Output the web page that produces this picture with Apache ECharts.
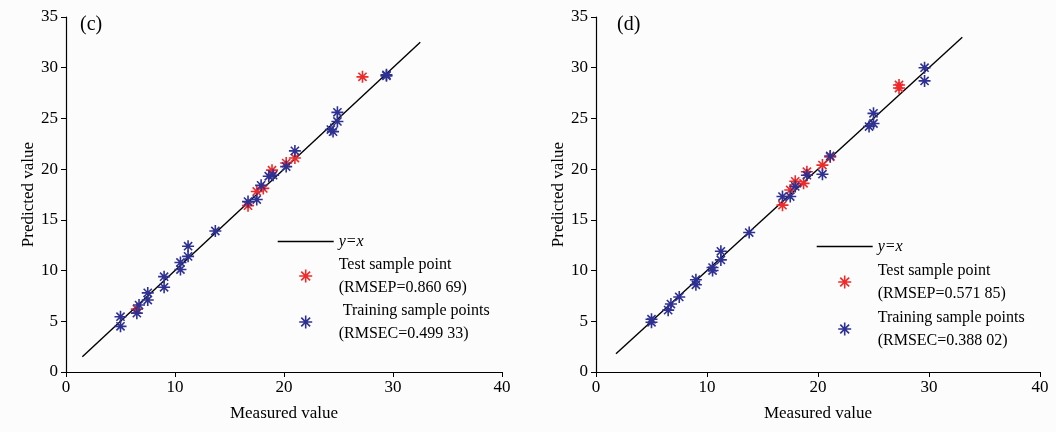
<!DOCTYPE html>
<html>
<head>
<meta charset="utf-8">
<script src="https://cdn.jsdelivr.net/npm/echarts@6/dist/echarts.min.js"></script>
<style>
html,body{margin:0;padding:0;background:#fcfcfc;}
#chart{width:1056px;height:432px;}
</style>
</head>
<body>
<div id="chart"></div>
<script>
// ---- data ----
var panelTitles = ['(c)', '(d)'];
var xAxisName = 'Measured value';
var yAxisName = 'Predicted value';
var xRange = [0, 40, 10];
var yRange = [0, 35, 5];
var lineName = 'y=x';

var lineC = [1.5, 32.5];
var testNameC = 'Test sample point\n(RMSEP=0.860 69)';
var trainNameC = ' Training sample points\n(RMSEC=0.499 33)';
var measuredC_test  = [6.5, 16.7, 17.5, 18.1, 18.9, 20.2, 21.0, 27.2];
var predictedC_test = [6.2, 16.4, 17.8, 18.1, 19.9, 20.6, 21.1, 29.1];
var measuredC_train  = [5.0, 5.0, 6.5, 6.7, 7.5, 7.5, 9.0, 9.0, 10.5, 10.5, 11.2, 11.2, 13.7, 16.7, 17.5, 17.9, 18.6, 19.0, 20.2, 21.0, 24.3, 24.5, 24.9, 24.9, 29.4, 29.4];
var predictedC_train = [5.45, 4.5, 5.8, 6.6, 7.8, 7.1, 9.4, 8.35, 10.8, 10.1, 12.4, 11.4, 13.9, 16.8, 17.0, 18.4, 19.3, 19.4, 20.25, 21.8, 23.9, 23.7, 24.7, 25.6, 29.3, 29.2];

var lineD = [1.8, 33.0];
var testNameD = 'Test sample point\n(RMSEP=0.571 85)';
var trainNameD = 'Training sample points\n(RMSEC=0.388 02)';
var measuredD_test  = [16.8, 17.5, 17.95, 18.7, 19.0, 20.4, 21.1, 27.3, 27.3];
var predictedD_test = [16.45, 17.95, 18.8, 18.6, 19.75, 20.4, 21.2, 28.3, 28.0];
var measuredD_train  = [5.0, 5.0, 6.5, 6.75, 7.5, 9.0, 9.0, 10.5, 10.5, 11.25, 11.25, 13.8, 16.8, 17.5, 17.95, 19.0, 20.4, 21.1, 24.6, 25.0, 25.0, 29.6, 29.6];
var predictedD_train = [5.2, 4.9, 6.1, 6.7, 7.4, 9.1, 8.6, 10.3, 10.0, 11.9, 11.05, 13.75, 17.3, 17.3, 18.3, 19.4, 19.5, 21.3, 24.2, 24.5, 25.5, 30.0, 28.7];

// ---- styling / build ----
var FONT = '"Liberation Serif", "Times New Roman", serif';
var RED = '#ee2a2a';
var BLUE = '#2e3192';
var STAR = 'path://M5,0L5,10M0,5L10,5M1.6,1.6L8.4,8.4M8.4,1.6L1.6,8.4';

function pairs(xs, ys) { return xs.map(function (x, i) { return [x, ys[i]]; }); }

function xAxisOpt(gi) {
  return {
    gridIndex: gi, type: 'value', min: xRange[0], max: xRange[1], interval: xRange[2],
    name: xAxisName, nameLocation: 'middle', nameGap: 33,
    nameTextStyle: { fontFamily: FONT, fontSize: 17, color: '#000' },
    axisLine: { show: true, onZero: false, lineStyle: { color: '#000', width: 1.2 } },
    axisTick: { show: true, inside: false, length: 5, lineStyle: { color: '#000' } },
    axisLabel: { fontFamily: FONT, fontSize: 17, color: '#000', margin: 7 },
    splitLine: { show: false }
  };
}
function yAxisOpt(gi) {
  return {
    gridIndex: gi, type: 'value', min: yRange[0], max: yRange[1], interval: yRange[2],
    name: yAxisName, nameLocation: 'middle', nameGap: 27,
    nameTextStyle: { fontFamily: FONT, fontSize: 17, color: '#000' },
    axisLine: { show: true, onZero: false, lineStyle: { color: '#000', width: 1.2 } },
    axisTick: { show: true, inside: false, length: 5, lineStyle: { color: '#000' } },
    axisLabel: { fontFamily: FONT, fontSize: 17, color: '#000', margin: 8 },
    splitLine: { show: false }
  };
}
function lineSeries(gi, ends) {
  return {
    name: lineName, type: 'line', xAxisIndex: gi, yAxisIndex: gi,
    data: [[ends[0], ends[0]], [ends[1], ends[1]]],
    symbol: 'none', lineStyle: { color: '#000', width: 1.4 }, itemStyle: { color: '#000' },
    z: 3, silent: true
  };
}
function starSeries(gi, name, xs, ys, color, z) {
  return {
    name: name, type: 'scatter', xAxisIndex: gi, yAxisIndex: gi,
    data: pairs(xs, ys), symbol: STAR, symbolSize: 12,
    itemStyle: { color: 'rgba(0,0,0,0)', borderColor: color, borderWidth: 1.6, opacity: 1 },
    z: z
  };
}
function legendOpt(left, top, testName, trainName, lh, gap) {
  return {
    orient: 'vertical', left: left, top: top, padding: 0,
    itemWidth: 56, itemHeight: 13, itemGap: gap,
    textStyle: { fontFamily: FONT, fontSize: 16, color: '#000', lineHeight: lh },
    data: [
      { name: lineName,
        itemStyle: { color: 'rgba(0,0,0,0)', borderWidth: 0, opacity: 0 },
        lineStyle: { color: '#000', width: 1.4, opacity: 1 },
        textStyle: { fontStyle: 'italic', fontFamily: FONT, fontSize: 16, lineHeight: lh } },
      { name: testName, itemStyle: { color: 'rgba(0,0,0,0)', borderColor: RED, borderWidth: 1.6 } },
      { name: trainName, itemStyle: { color: 'rgba(0,0,0,0)', borderColor: BLUE, borderWidth: 1.6 } }
    ],
    selectedMode: false
  };
}

var option = {
  animation: false,
  backgroundColor: '#fcfcfc',
  title: [
    { text: panelTitles[0], left: 80, top: 15, padding: 0, textStyle: { fontFamily: FONT, fontSize: 20, fontWeight: 'normal', color: '#000' } },
    { text: panelTitles[1], left: 617, top: 15, padding: 0, textStyle: { fontFamily: FONT, fontSize: 20, fontWeight: 'normal', color: '#000' } }
  ],
  grid: [
    { left: 66, top: 17, width: 436, bottom: 60, containLabel: false },
    { left: 596, top: 17, width: 444, bottom: 60, containLabel: false }
  ],
  xAxis: [xAxisOpt(0), xAxisOpt(1)],
  yAxis: [yAxisOpt(0), yAxisOpt(1)],
  legend: [
    legendOpt(277, 230, testNameC, trainNameC, 23, 0),
    legendOpt(816, 235, testNameD, trainNameD, 23, 1)
  ],
  series: [
    lineSeries(0, lineC),
    starSeries(0, testNameC, measuredC_test, predictedC_test, RED, 4),
    starSeries(0, trainNameC, measuredC_train, predictedC_train, BLUE, 5),
    lineSeries(1, lineD),
    starSeries(1, testNameD, measuredD_test, predictedD_test, RED, 4),
    starSeries(1, trainNameD, measuredD_train, predictedD_train, BLUE, 5)
  ]
};

var chart = echarts.init(document.getElementById('chart'), null, { renderer: 'canvas' });
chart.setOption(option);
</script>
</body>
</html>
